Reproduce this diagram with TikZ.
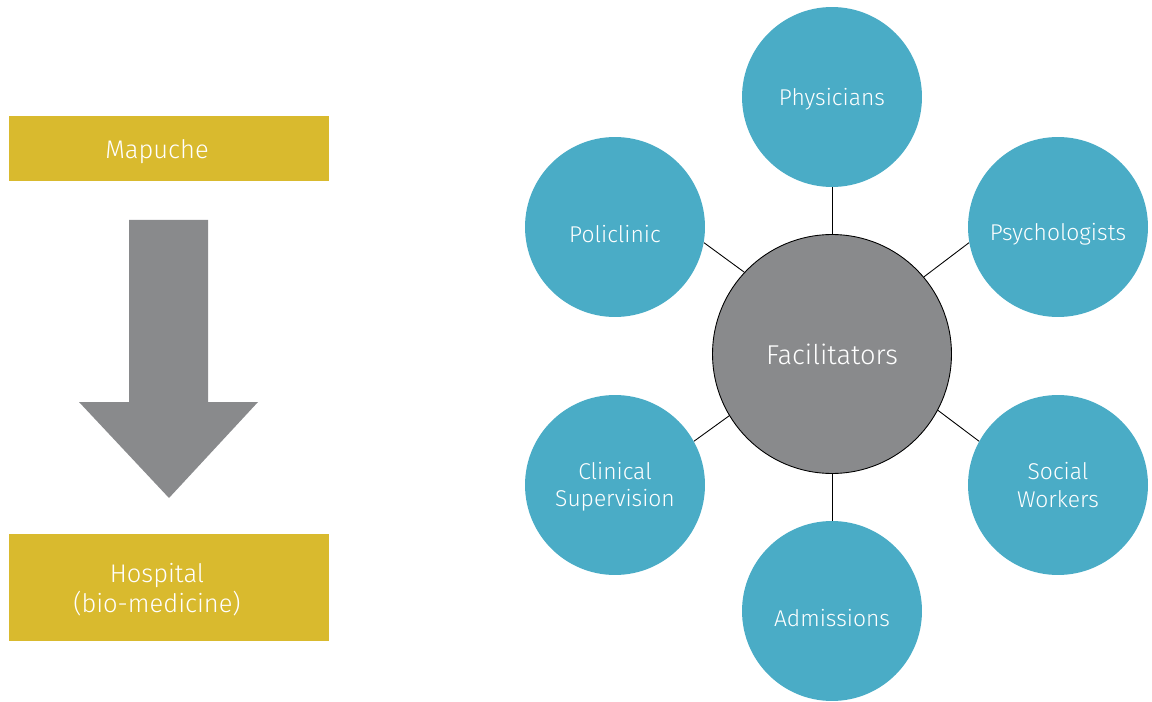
\documentclass[tikz,border=0pt]{standalone}
\usepackage{fontspec}
\setmainfont{Fira Sans}[UprightFont=* Light]
\usetikzlibrary{arrows}

\definecolor{mapgold}{HTML}{D9BA2E}
\definecolor{roleblue}{HTML}{4AACC6}
\definecolor{hubgray}{HTML}{898A8C}

\begin{document}
\begin{tikzpicture}[x=0.02cm,y=-0.02cm,
        side box/.style={rectangle,fill=mapgold,inner sep=0pt,minimum width=6.4cm},
        side text/.style={text=white,align=center,font=\fontsize{14.5}{17}\selectfont},
        hub node/.style={circle,draw=black,line width=0.5pt,fill=hubgray,text=white,
          minimum size=4.78cm,inner sep=0pt,font=\fontsize{15.5}{18}\selectfont},
        role node/.style={circle,fill=roleblue,minimum size=3.6cm,inner sep=0pt},
        role text/.style={text=white,align=center,anchor=mid,yshift=-1pt,
          font=\fontsize{13}{15.5}\selectfont},
        low text/.style={role text,yshift=-3pt},
        two lines/.style={role text,anchor=center}]
        \useasboundingbox (0,0) rectangle (1152,702);
        % left side
        \node[side box, minimum height=1.3cm,
          label={[side text,xshift=-0.24cm,yshift=-2pt]center:Mapuche}] (map) at (169,148.5) {};
        \node[side box, minimum height=2.14cm,
          label={[side text,xshift=-0.24cm,yshift=-1pt]center:{Hospital\\(bio-medicine)}}] (hosp) at (169,587.5) {};
        \fill[hubgray] (129,220) -- (208,220) -- (208,402) -- (258,402) -- (169,498)
          -- (79,402) -- (129,402) -- cycle;
        % right side
        \node[hub node] (fac) at (832,354) {Facilitators};
        \node[role node, label={[role text]center:Physicians}] (phys) at (832,97) {};
        \node[role node, label={[low text]center:Policlinic}] (poli) at (615,227) {};
        \node[role node, label={[low text]center:Psychologists}] (psy) at (1058,227) {};
        \node[role node, label={[two lines]center:{Clinical\\Supervision}}] (clin) at (615,485) {};
        \node[role node, label={[two lines,yshift=1pt]center:{Social\\Workers}}] (soc) at (1058,485) {};
        \node[role node, label={[low text]center:Admissions}] (adm) at (832,611) {};
        \path[draw=black,line width=0.5pt]
        (fac.90) edge (phys.270)
        (fac.137.4) edge (poli.-10)
        (fac.40.3) edge (psy.190.8)
        (fac.211.5) edge (clin.29)
        (fac.-28.3) edge (soc.151)
        (fac.270) edge (adm.90)
        ;
        \end{tikzpicture}
\end{document}
